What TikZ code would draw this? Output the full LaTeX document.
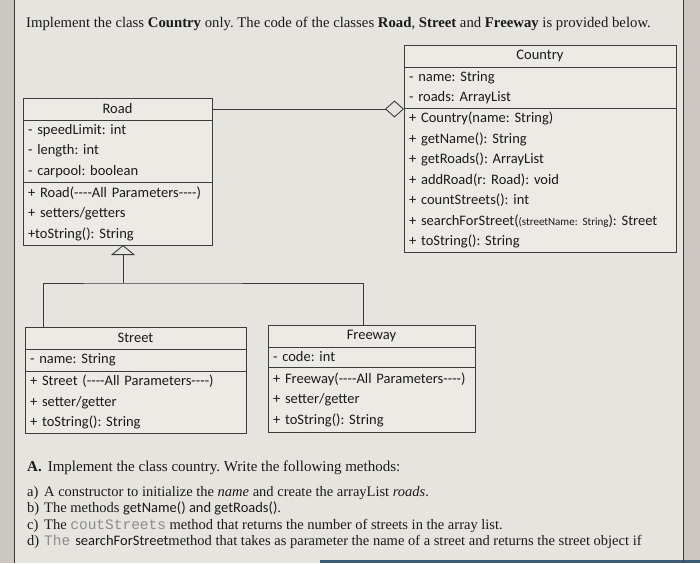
\documentclass[tikz,border=0pt]{standalone}
\usepackage{fontspec}
\setmainfont{Liberation Serif}
\newfontfamily\umlfont{Carlito}
\newfontfamily\codefont{Liberation Mono}
\usepackage{xcolor}
\usetikzlibrary{arrows.meta, positioning}
\frenchspacing

\definecolor{paper}{HTML}{E6E4DE}
\definecolor{boxfill}{HTML}{ECEAE5}
\definecolor{rim}{HTML}{CCC8C1}
\definecolor{ink}{HTML}{1A1A1A}
\definecolor{umlline}{HTML}{3C3C3C}
\definecolor{codegray}{HTML}{8C8C8C}
\definecolor{screenblue}{HTML}{3E5C7C}

\newcommand{\umltext}{\umlfont\fontsize{14.5}{20.5}\selectfont}
\newcommand{\tasktext}{\fontsize{14.5}{16}\selectfont}

\begin{document}
\begin{tikzpicture}[x=1pt, y=-1pt,
    umlhead/.style={draw=umlline, fill=boxfill, line width=0.9pt, outer sep=0pt, inner xsep=5pt, inner ysep=0pt, font=\umltext, text=ink, align=center},
    umlpart/.style={umlhead, align=left},
    umledge/.style={draw=umlline, line width=0.9pt},
    aggr/.style={umledge, -{Diamond[open, length=19pt, width=17pt]}},
    inherit/.style={umledge, -{Triangle[open, length=10pt, width=24pt]}},
    textline/.style={anchor=base west, inner sep=0pt, font=\tasktext, text=ink}]

    % photographed sheet
    \useasboundingbox (0,0) rectangle (700,563);
    \fill[paper] (0,0) rectangle (700,563);
    \fill[rim] (0,0) rectangle (14,563);
    \fill[rim] (683,0) rectangle (700,563);
    \fill[screenblue] (320,560) rectangle (700,563);
    \draw[umlline, line width=0.8pt] (14,0) -- (14,563);
    \draw[umlline, line width=0.8pt] (683,0) -- (683,563);

    \node[anchor=base west, inner sep=0pt, font=\fontsize{14.75}{17}\selectfont, text=ink] (title) at (26,27)
        {Implement the class \textbf{Country} only. The code of the classes \textbf{Road}, \textbf{Street} and \textbf{Freeway} is provided below.};

    % Country
    \node[umlhead, text width=262pt, minimum height=22pt, anchor=north west] (countryhead) at (404,45) {Country};
    \node[umlpart, text width=262pt, minimum height=41pt, below=0pt of countryhead] (countryattr)
        {- name: String\\- roads: ArrayList};
    \node[umlpart, text width=262pt, minimum height=144pt, below=0pt of countryattr] (countryops)
        {+ Country(name: String)\\+ getName(): String\\+ getRoads(): ArrayList\\+ addRoad(r: Road): void\\+ countStreets(): int\\+ searchForStreet({\fontsize{11}{12}\selectfont(streetName: String}): Street\\+ toString(): String};

    % Road
    \node[umlhead, text width=179pt, minimum height=22pt, anchor=north west] (roadhead) at (23,98) {Road};
    \node[umlpart, text width=179pt, minimum height=62pt, below=0pt of roadhead] (roadattr)
        {- speedLimit: int\\- length: int\\- carpool: boolean};
    \node[umlpart, text width=179pt, minimum height=63pt, below=0pt of roadattr] (roadops)
        {+ Road(----All Parameters----)\\+ setters/getters\\+toString(): String};

    % Street
    \node[umlhead, text width=211pt, minimum height=22pt, anchor=north west] (streethead) at (25,327) {Street};
    \node[umlpart, text width=211pt, minimum height=22pt, below=0pt of streethead] (streetattr) {- name: String};
    \node[umlpart, text width=211pt, minimum height=62pt, below=0pt of streetattr] (streetops)
        {+ Street (----All Parameters----)\\+ setter/getter\\+ toString(): String};

    % Freeway
    \node[umlhead, text width=197pt, minimum height=22pt, anchor=north west] (fwyhead) at (268,325) {Freeway};
    \node[umlpart, text width=197pt, minimum height=20pt, below=0pt of fwyhead] (fwyattr) {- code: int};
    \node[umlpart, text width=197pt, minimum height=65pt, below=0pt of fwyattr] (fwyops)
        {+ Freeway(----All Parameters----)\\+ setter/getter\\+ toString(): String};

    % relations
    \draw[aggr] (roadhead.east) -- (roadhead.east -| countryops.west);
    \coordinate (fork) at (123,283);
    \draw[inherit] (fork) -- (fork |- roadops.south);
    \draw[umledge] ([xshift=18pt]streethead.north west) |- (fork) -| ([xshift=-8pt]fwyhead.north);

    % task text
    \node[textline, font=\fontsize{15}{17}\selectfont] (taska) at (27,471) {\textbf{A.}\hspace{6pt}Implement the class country. Write the following methods:};
    \node[textline] (itema) at (27,496) {\makebox[17pt][l]{a)}A constructor to initialize the \textit{name} and create the arrayList \textit{roads}.};
    \node[textline] (itemb) at (27,512) {\makebox[17pt][l]{b)}The methods {\umlfont getName() and getRoads()}.};
    \node[textline] (itemc) at (27,529) {\makebox[17pt][l]{c)}The {\codefont\color{codegray}coutStreets} method that returns the number of streets in the array list.};
    \node[textline] (itemd) at (27,545) {\makebox[17pt][l]{d)}{\codefont\color{codegray}The}\hspace{5pt}{\umlfont searchForStreet}method that takes as parameter the name of a street and returns the street object if};
\end{tikzpicture}
\end{document}
